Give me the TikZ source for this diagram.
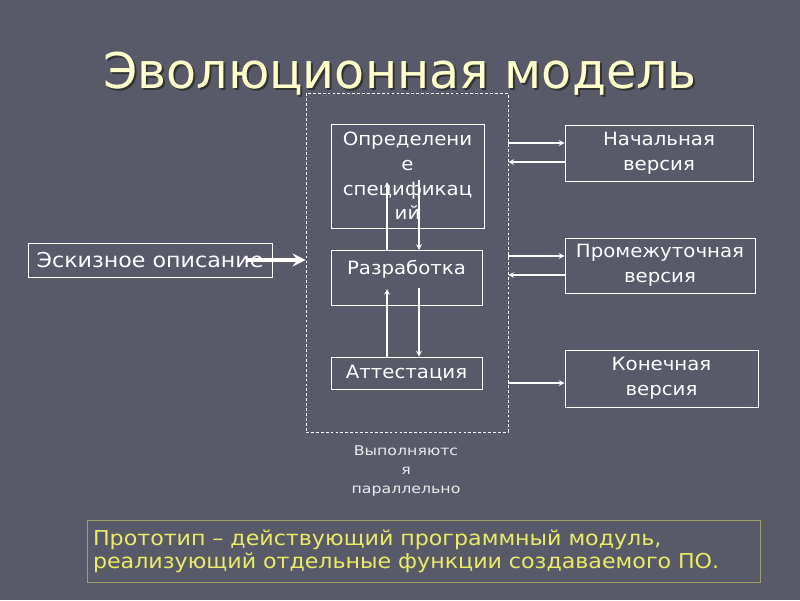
\documentclass[tikz,border=0pt]{standalone}
\usepackage{fontspec}
\setmainfont{DejaVu Sans}
\newfontfamily\titlefont{DejaVu Sans}
\newfontfamily\wideface{DejaVu Sans}[FakeStretch=1.08]
\newfontfamily\noteface{DejaVu Sans}[FakeStretch=1.18]
\usetikzlibrary{arrows,positioning}
\definecolor{slatebg}{RGB}{88,90,106}
\definecolor{titlecream}{RGB}{255,255,204}
\definecolor{protoyellow}{RGB}{235,235,100}
\definecolor{protoframe}{RGB}{160,160,100}
\newdimen\pxu \pxu=0.025cm

\begin{document}
\begin{tikzpicture}[x=0.025cm, y=-0.025cm,
		wbox/.style={draw=white, line width=0.7pt, inner sep=0pt, align=center,
			text=white, font=\wideface\fontsize{13}{17.5}\selectfont},
		arr/.style={-stealth, white, line width=0.8pt},
		bigarr/.style={-stealth, white, line width=3pt},
		parbox/.style={draw=white, line width=0.5pt, dash pattern=on 2pt off 1.5pt}
	]
		\fill[slatebg] (0,0) rectangle (800,600);
		\node[anchor=base, text=black!80, font=\titlefont\fontsize{35}{40}\selectfont] (ttlshadow) at (402,90) {Эволюционная модель};
		\node[anchor=base, text=titlecream, font=\titlefont\fontsize{35}{40}\selectfont] (ttl) at (400,88) {Эволюционная модель};
		\node[parbox, minimum width=202\pxu, minimum height=339\pxu] (par) at (407,262.5) {};
		\node[wbox, minimum width=153\pxu, minimum height=104\pxu] (spec) at (407.5,176) {Определени\\е\\спецификац\\ий};
		\node[wbox, minimum width=151\pxu, anchor=north, text height=24\pxu, text depth=31\pxu] (raz) at (406.5,250) {Разработка};
		\node[wbox, minimum width=151\pxu, minimum height=32\pxu] (att) at (406.5,373) {Аттестация};
		\node[wbox, minimum width=244\pxu, minimum height=34\pxu, font=\wideface\fontsize{14.6}{17}\selectfont] (esk) at (150,260) {Эскизное описание};
		\node[wbox, minimum width=188\pxu, minimum height=56\pxu] (nach) at (659,153) {Начальная\\версия};
		\node[wbox, minimum width=190\pxu, minimum height=55\pxu] (prom) at (660,265.5) {Промежуточная\\версия};
		\node[wbox, minimum width=193\pxu, minimum height=57\pxu] (kon) at (661.5,378.5) {Конечная\\версия};
		\node[align=center, text=white!88!slatebg, font=\noteface\fontsize{9.5}{13.5}\selectfont] (note) at (406,471) {Выполняютс\\я\\параллельно};
		\node[draw=protoframe, line width=0.6pt, inner xsep=6\pxu, text width=661\pxu, minimum height=62\pxu,
			align=left, text=protoyellow, font=\wideface\fontsize{14.6}{16.5}\selectfont] (proto) at (423.5,551)
			{Прототип – действующий программный модуль,\\реализующий отдельные функции создаваемого ПО.};
		\draw[bigarr] ([xshift=-25\pxu]esk.east) -- (esk.east -| par.west);
		\draw[arr] ([xshift=-19.5\pxu]raz.north) -- ([xshift=-20.5\pxu,yshift=-6\pxu]spec.center);
		\draw[arr] ([xshift=11.5\pxu,yshift=-4\pxu]spec.center) -- ([xshift=12.5\pxu]raz.north);
		\draw[arr] ([xshift=-19.5\pxu]att.north) -- ([xshift=-19.5\pxu,yshift=17\pxu]raz.south);
		\draw[arr] ([xshift=12.5\pxu,yshift=18\pxu]raz.south) -- ([xshift=12.5\pxu]att.north);
		\draw[arr] ([yshift=10\pxu]nach.west -| par.east) -- ([yshift=10\pxu]nach.west);
		\draw[arr] ([yshift=-9\pxu]nach.west) -- ([yshift=-9\pxu]nach.west -| par.east);
		\draw[arr] ([yshift=9.5\pxu]prom.west -| par.east) -- ([yshift=9.5\pxu]prom.west);
		\draw[arr] ([yshift=-9.5\pxu]prom.west) -- ([yshift=-9.5\pxu]prom.west -| par.east);
		\draw[arr] ([yshift=-4.5\pxu]kon.west -| par.east) -- ([yshift=-4.5\pxu]kon.west);
	\end{tikzpicture}
\end{document}
